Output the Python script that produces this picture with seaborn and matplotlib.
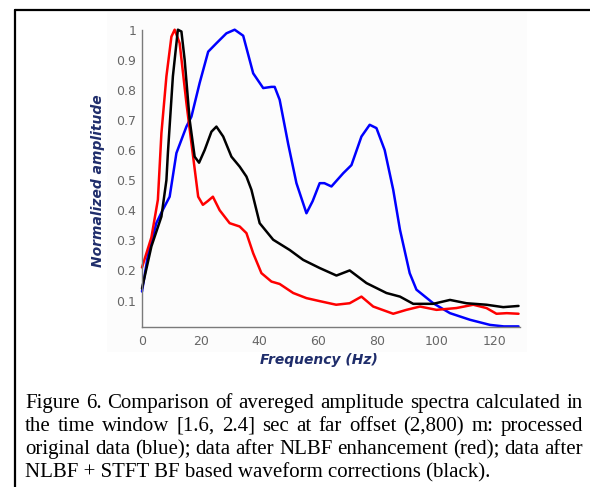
import numpy as np
import pandas as pd
import seaborn as sns
import matplotlib.pyplot as plt
from matplotlib.lines import Line2D
from matplotlib.patches import Rectangle

# processed original data (blue)
blue_f = [0, 2, 4.9, 7, 9.4, 11.7, 15.1, 16.8, 19.6, 22.5, 25.3, 28.7, 31.5, 34.4,
          37.8, 41.2, 44, 45.1, 46.8, 49.7, 52.5, 55.9, 58, 60.4, 62, 64.4, 68.4,
          71.2, 74.6, 77.4, 79.7, 82.5, 85.4, 87.7, 91, 93.3, 99, 104.7, 111.5,
          118.3, 123, 128]
blue_a = [0.13, 0.25, 0.358, 0.40, 0.445, 0.59, 0.678, 0.711, 0.823, 0.927, 0.955,
          0.988, 1.0, 0.98, 0.855, 0.806, 0.81, 0.81, 0.767, 0.62, 0.49, 0.39,
          0.43, 0.49, 0.49, 0.479, 0.523, 0.55, 0.645, 0.684, 0.673, 0.6, 0.468,
          0.335, 0.191, 0.136, 0.091, 0.058, 0.036, 0.019, 0.014, 0.014]

# after NLBF enhancement (red)
red_f = [0, 3.2, 5.4, 6.6, 8.3, 10, 11.1, 12.8, 15.1, 16.8, 19.1, 20.7, 22.3, 24.1,
         26.4, 29.8, 33.2, 35.5, 37.8, 40.6, 44, 46.8, 51.4, 55.9, 60.4, 66, 70.6,
         74.6, 78.6, 85.4, 89.9, 94.5, 100.1, 106.9, 112.6, 117.1, 120.5, 124, 128]
red_a = [0.21, 0.31, 0.435, 0.656, 0.845, 0.977, 1.0, 0.955, 0.756, 0.623, 0.445,
         0.418, 0.43, 0.445, 0.40, 0.357, 0.346, 0.324, 0.257, 0.191, 0.163, 0.155,
         0.125, 0.108, 0.098, 0.086, 0.091, 0.113, 0.08, 0.056, 0.069, 0.08, 0.069,
         0.075, 0.086, 0.075, 0.056, 0.058, 0.056]

# after NLBF + STFT BF corrections (black)
black_f = [0, 3.2, 6.6, 8.3, 8.8, 10.5, 12.2, 13.4, 14.5, 16.2, 17.9, 19.4, 21.3,
           23.6, 25.3, 27.6, 30.4, 33.2, 35.5, 37.2, 40, 44.6, 50.2, 54.8, 60.4,
           66.1, 70.6, 76.3, 83.1, 87.7, 92.2, 99, 104.7, 110.3, 117.1, 122.8, 128]
black_a = [0.14, 0.28, 0.379, 0.5, 0.59, 0.845, 1.0, 0.994, 0.9, 0.7, 0.578, 0.558,
           0.6, 0.661, 0.678, 0.645, 0.578, 0.545, 0.512, 0.468, 0.357, 0.302,
           0.268, 0.235, 0.208, 0.183, 0.2, 0.158, 0.125, 0.113, 0.089, 0.089,
           0.102, 0.091, 0.086, 0.078, 0.082]

caption_lines = [
    "Figure 6. Comparison of avereged amplitude spectra calculated in",
    "the time window [1.6, 2.4] sec at far offset (2,800) m: processed",
    "original data (blue); data after NLBF enhancement (red); data after",
    "NLBF + STFT BF based waveform corrections (black).",
]

df = pd.concat([
    pd.DataFrame({'f': blue_f, 'amp': blue_a, 'series': 'original'}),
    pd.DataFrame({'f': red_f, 'amp': red_a, 'series': 'nlbf'}),
    pd.DataFrame({'f': black_f, 'amp': black_a, 'series': 'nlbf_stft'}),
])

sns.set_style('white')
fig = plt.figure(figsize=(5.9, 4.87), dpi=100)
W, H = 590, 487

# faint background of the embedded plot image
fig.add_artist(Rectangle((107 / W, 1 - 352 / H), 420 / W, 340 / H,
                         transform=fig.transFigure, facecolor='#fcfcfc',
                         edgecolor='none', zorder=0))

ax = fig.add_axes([142 / W, 1 - 326.7 / H, 378 / W, 297 / H])
ax.patch.set_alpha(0)
sns.lineplot(data=df, x='f', y='amp', hue='series', sort=False, estimator=None,
             palette={'original': '#0000ff', 'nlbf': '#ff0000', 'nlbf_stft': 'black'},
             linewidth=1.8, legend=False, ax=ax)
for ln in ax.lines:
    ln.set_clip_on(False)

ax.set_xlim(0, 128.5)
ax.set_ylim(0.013, 1.0)
ax.set_xticks([0, 20, 40, 60, 80, 100, 120])
ax.set_yticks([0.1, 0.2, 0.3, 0.4, 0.5, 0.6, 0.7, 0.8, 0.9, 1.0])
ax.set_yticklabels(['0.1', '0.2', '0.3', '0.4', '0.5', '0.6', '0.7', '0.8', '0.9', '1'])
for s in ['top', 'right']:
    ax.spines[s].set_visible(False)
for s in ['left', 'bottom']:
    ax.spines[s].set_color('#7a7a7a')
    ax.spines[s].set_linewidth(1.0)
ax.tick_params(direction='in', length=4, width=1, color='#7a7a7a',
               labelcolor='#666666', labelsize=9, pad=4)
ax.tick_params(axis='x', pad=6)

ax.set_xlabel('Frequency (Hz)', fontsize=10, fontweight='heavy', fontstyle='italic',
              color='#1f2d6b')
ax.set_ylabel('Normalized amplitude', fontsize=10, fontweight='heavy', fontstyle='italic',
              color='#1f2d6b')
ax.xaxis.set_label_coords(0.468, -0.088)
ax.yaxis.set_label_coords(-0.098, 0.492)

# frame lines of the figure box
fig.add_artist(Line2D([15 / W, 15 / W], [0, 1 - 10 / H], transform=fig.transFigure,
                      color='black', linewidth=1.6))
fig.add_artist(Line2D([15 / W, 1], [1 - 10 / H, 1 - 10 / H], transform=fig.transFigure,
                      color='black', linewidth=1.6))

# justified caption, one baseline every 23 px
renderer = fig.canvas.get_renderer()
x0, x1 = 25, 583
for i, line in enumerate(caption_lines):
    yb = 1 - (408 + 23 * i) / H
    kw = dict(ha='left', va='baseline', family='Liberation Serif', fontsize=15,
              color='black')
    if i == len(caption_lines) - 1:
        fig.text(x0 / W, yb, line, **kw)
        continue
    words = line.split(' ')
    texts = [fig.text(0, yb, w, **kw) for w in words]
    widths = [t.get_window_extent(renderer).width for t in texts]
    gap = (x1 - x0 - sum(widths)) / (len(words) - 1)
    x = x0
    for t, w in zip(texts, widths):
        t.set_x(x / W)
        x += w + gap

fig.savefig('out.png', dpi=100)
